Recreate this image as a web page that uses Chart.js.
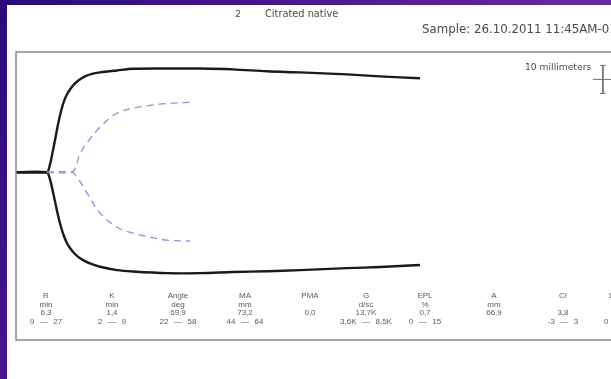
<!DOCTYPE html>
<html>
<head>
<meta charset="utf-8">
<script src="https://cdn.jsdelivr.net/npm/chart.js@4/dist/chart.umd.min.js"></script>
<style>
  html, body { margin: 0; padding: 0; width: 611px; height: 379px; overflow: hidden; background: #ffffff; }
  #stage { position: relative; width: 611px; height: 379px; overflow: hidden; }
  #frameTop { position: absolute; left: 0; top: 0; width: 611px; height: 5px;
    background: linear-gradient(to right, #2a0b7c, #4a1890 50%, #6a2aa0); }
  #frameLeft { position: absolute; left: 0; top: 0; width: 7px; height: 379px;
    background: linear-gradient(to bottom, #2a0b7c, #3a1086 60%, #4a168e); }
  #wrap { position: absolute; left: 0; top: 0; width: 660px; height: 379px; }
  .txt { position: absolute; white-space: nowrap; color: #555; line-height: 1; }
  .hdr { font-family: "DejaVu Sans", sans-serif; font-size: 9px; color: #4a4a4a; }
  .cell { font-family: "Liberation Sans", sans-serif; font-size: 8px; color: #5a5a5a; transform: translateX(-50%); text-align: center; }
  .dash { display: inline-block; margin: 0 5.5px; }
</style>
</head>
<body>
<div id="stage">
  <div id="wrap"><canvas id="teg" width="660" height="379"></canvas></div>
  <div id="frameTop"></div>
  <div id="frameLeft"></div>
  <div id="labels"></div>
</div>
<script>
// Channel header
const channelNo = "2";
const sampleType = "Citrated native";
const sampleStamp = "Sample: 26.10.2011 11:45AM-01";
const scaleLabel = "10 millimeters";

// Tracing: time in minutes, deflection in mm from the baseline
const traceTime = [0, 5.54, 5.89, 6.25, 6.61, 6.96, 7.5, 8.04, 8.57, 9.11, 9.64, 10.36, 11.25, 12.32, 13.57, 15.0, 18.04, 20.89, 26.96, 32.86, 38.75, 44.82, 50.71, 59.11, 65.0, 72.14];
const upperMm   = [0, 0, 1.4, 4.3, 7.9, 11.4, 17.1, 21.8, 25.4, 27.9, 29.6, 31.4, 33.0, 34.3, 35.2, 35.7, 36.4, 37.0, 37.1, 37.1, 36.8, 36.1, 35.7, 35.0, 34.3, 33.6];
const lowerMm   = [0, 0, -1.4, -3.9, -7.1, -10.4, -15.4, -19.6, -22.9, -25.4, -27.1, -28.9, -30.5, -31.8, -32.9, -33.8, -35.0, -35.5, -36.1, -36.1, -35.7, -35.4, -35.0, -34.3, -33.9, -33.2];

// Normal-range envelope (dashed)
const refUpperTime = [5.5, 10.0, 10.7, 11.4, 12.7, 15.0, 18.0, 20.9, 23.9, 27.0, 31.1];
const refUpperMm   = [0, 0, 2.1, 6.4, 10.6, 16.1, 21.1, 22.9, 23.9, 24.6, 25.0];
const refLowerTime = [5.5, 10.0, 10.9, 12.7, 15.0, 18.0, 20.9, 23.9, 27.0, 31.1];
const refLowerMm   = [0, 0, -1.8, -7.5, -14.6, -19.6, -21.8, -23.2, -24.3, -24.6];

// 10 mm scale marker
const scaleBarX = [104.8, 104.8];
const scaleBarY = [38.2, 28.2];
const scaleTickX = [103.0, 106.8];
const scaleTickY = [33.2, 33.2];
const scaleCapX = [104.3, 105.3];
const scaleCapTopY = [38.2, 38.2];
const scaleCapBotY = [28.2, 28.2];

// Result table
const paramNames  = ["R", "K", "Angle", "MA", "PMA", "G", "EPL", "A", "CI", "LY30"];
const paramUnits  = ["min", "min", "deg", "mm", "", "d/sc", "%", "mm", "", "%"];
const paramValues = ["6,3", "1,4", "69,9", "73,2", "0,0", "13,7K", "0,7", "66,9", "3,8", ""];
const paramRanges = ["9 \u2014 27", "2 \u2014 9", "22 \u2014 58", "44 \u2014 64", "", "3,6K \u2014 8,5K", "0 \u2014 15", "", "-3 \u2014 3", "0 \u2014 8"];
const columnX = [46, 112, 178, 245, 310, 366, 425, 494, 563, 618];
const rowY = [292, 300.5, 309, 317.5];

function pts(xs, ys) { return xs.map((x, i) => ({ x: x, y: ys[i] })); }

// Text overlays
const labels = document.getElementById('labels');
function addText(cls, text, left, top) {
  const d = document.createElement('div');
  d.className = 'txt ' + cls;
  d.style.left = left + 'px';
  d.style.top = top + 'px';
  const parts = text.split(' \u2014 ');
  if (parts.length === 2) {
    d.appendChild(document.createTextNode(parts[0]));
    const s = document.createElement('span');
    s.className = 'dash';
    s.textContent = '\u2014';
    d.appendChild(s);
    d.appendChild(document.createTextNode(parts[1]));
  } else {
    d.textContent = text;
  }
  labels.appendChild(d);
  return d;
}
addText('hdr', channelNo, 235, 9).style.fontSize = '9.5px';
addText('hdr', sampleType, 265, 9).style.fontSize = '9.8px';
addText('hdr', sampleStamp, 422, 24).style.fontSize = '11.8px';
addText('hdr', scaleLabel, 525, 62).style.fontSize = '9.2px';
paramNames.forEach((n, i) => {
  [n, paramUnits[i], paramValues[i], paramRanges[i]].forEach((t, r) => {
    if (t) addText('cell', t, columnX[i], rowY[r]);
  });
});

// Frame around the plotting box
const boxPlugin = {
  id: 'box',
  afterDraw(chart) {
    const a = chart.chartArea, ctx = chart.ctx;
    ctx.save();
    ctx.strokeStyle = '#8a8a8a';
    ctx.lineWidth = 1.5;
    ctx.strokeRect(a.left, a.top, a.right - a.left, a.bottom - a.top);
    ctx.restore();
  }
};

const black = { borderColor: '#1a1a1a', borderWidth: 2.4, pointRadius: 0, tension: 0.3, fill: false };
const dashed = { borderColor: '#9d8ad8', borderWidth: 1.3, borderDash: [7, 5], pointRadius: 0, tension: 0.35, fill: false };
const marker = { borderColor: '#707070', borderWidth: 1, pointRadius: 0, tension: 0, fill: false };

new Chart(document.getElementById('teg'), {
  type: 'line',
  data: {
    datasets: [
      Object.assign({ label: 'ref upper', data: pts(refUpperTime, refUpperMm) }, dashed),
      Object.assign({ label: 'ref lower', data: pts(refLowerTime, refLowerMm) }, dashed),
      Object.assign({ label: 'upper', data: pts(traceTime, upperMm) }, black),
      Object.assign({ label: 'lower', data: pts(traceTime, lowerMm) }, black),
      Object.assign({ label: 'scale', data: pts(scaleBarX, scaleBarY) }, marker),
      Object.assign({ label: 'scale tick', data: pts(scaleTickX, scaleTickY) }, marker),
      Object.assign({ label: 'scale cap top', data: pts(scaleCapX, scaleCapTopY) }, marker),
      Object.assign({ label: 'scale cap bottom', data: pts(scaleCapX, scaleCapBotY) }, marker)
    ]
  },
  options: {
    responsive: false,
    animation: false,
    events: [],
    layout: { padding: { left: 16, top: 52, right: 28, bottom: 39 } },
    plugins: { legend: { display: false }, tooltip: { enabled: false }, title: { display: false } },
    scales: {
      x: { type: 'linear', min: 0, max: 110, display: false },
      y: { type: 'linear', min: -60, max: 43, display: false }
    }
  },
  plugins: [boxPlugin]
});
</script>
</body>
</html>
